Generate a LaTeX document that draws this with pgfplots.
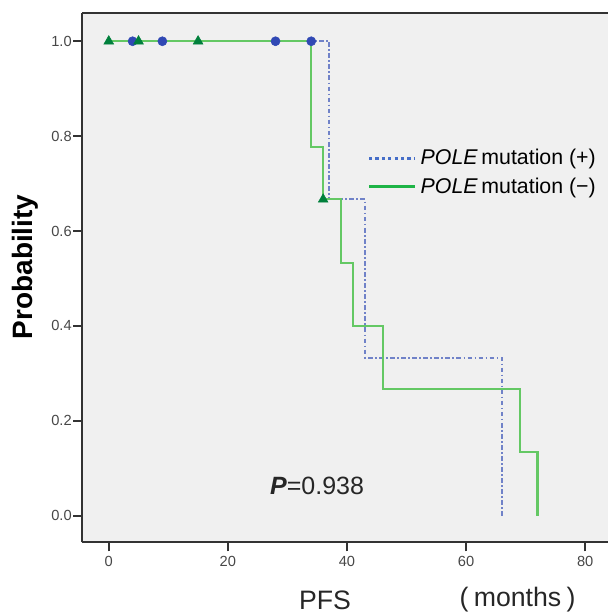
\documentclass[border=0pt]{standalone}
\usepackage{fontspec}
\setmainfont{Liberation Sans}
\usepackage{pgfplots}
\pgfplotsset{compat=1.18}
\definecolor{bggray}{RGB}{240,240,240}
\definecolor{posline}{RGB}{112,130,200}
\definecolor{posdot}{RGB}{48,72,180}
\definecolor{negline}{RGB}{100,200,100}
\definecolor{negtri}{RGB}{0,128,60}
\definecolor{poslegend}{RGB}{70,110,200}
\definecolor{neglegend}{RGB}{30,180,70}

\begin{document}
\begin{tikzpicture}
\begin{axis}[
  at={(0,0)}, anchor=south west,
  scale only axis,
  width=394.3pt, height=396.75pt,
  xmin=-4.45, xmax=83.83, ymin=-0.0561, ymax=1.059,
  axis x line*=bottom, axis y line*=left,
  axis line style={-, line width=1.3pt, black!80},
  axis background/.style={fill=bggray},
  xtick={0,20,40,60,80},
  ytick={0,0.2,0.4,0.6,0.8,1},
  yticklabel style={inner xsep=1pt, /pgf/number format/.cd, fixed, fixed zerofill, precision=1},
  /pgf/number format/assume math mode=true,
  tick align=outside, major tick length=6.75pt,
  tick style={line width=1.3pt, black!80},
  tick label style={font=\fontsize{11}{12}\selectfont, text=black!72},
  clip=false,
  legend cell align=left,
  legend style={draw=none, fill=none, at={(rel axis cs:0.5416,0.748)},
    anchor=north west, font=\fontsize{16}{19}\selectfont,
    inner sep=0pt, row sep=4pt,
    nodes={inner xsep=3pt}},
]
% POLE mutation (+)
\addplot[const plot, posline, line width=1.5pt,
  dash pattern=on 3.5pt off 1.8pt on 1.2pt off 1.8pt,
  legend image code/.code={\draw[poslegend, line width=2.4pt, dash pattern=on 2.4pt off 2.4pt] (0pt,0pt) -- (34.5pt,0pt);}]
  coordinates {(0,1) (37,0.6667) (43,0.3333) (66,0)};
\addlegendentry{\textit{POLE}\,mutation (+)}
% POLE mutation (-)
\addplot[const plot, negline, line width=1.6pt,
  legend image code/.code={\draw[neglegend, line width=2.6pt] (0pt,0pt) -- (34.5pt,0pt);}]
  coordinates {(0,1) (34,0.7778) (36,0.6667) (39,0.5333) (41,0.4) (46,0.2667) (69,0.1333) (72,0)};
\addlegendentry{\textit{POLE}\,mutation (\textminus)}
% censored marks
\addplot[only marks, mark=*, mark size=3.4pt, posdot, forget plot]
  coordinates {(4,1) (9,1) (28,1) (34,1)};
\addplot[only marks, mark=triangle*, mark size=4.2pt, negtri, forget plot]
  coordinates {(0,1) (5,1) (15,1) (36,0.6667)};
\draw[line width=1.3pt, black!80] (rel axis cs:0,1) -- (rel axis cs:1,1);
\node[anchor=west, font=\fontsize{18.75}{22}\selectfont, text=black!85]
  at (axis cs:26.3,0.062) {\textbf{\textit{P}}=0.938};
\end{axis}
\node[rotate=90, font=\bfseries\fontsize{21}{24}\selectfont] at (-43pt,206.5pt) {Probability};
\node[font=\fontsize{20}{24}\selectfont, text=black!85] at (182pt,-43.3pt) {PFS};
\node[font=\fontsize{20}{24}\selectfont, text=black!85] at (326.5pt,-43.3pt) {(\hspace{0.2em}months\hspace{0.2em})};
\pgfresetboundingbox
\path[use as bounding box] (-61.7pt,-53.8pt) rectangle (394.3pt,406.7pt);
\end{tikzpicture}
\end{document}
